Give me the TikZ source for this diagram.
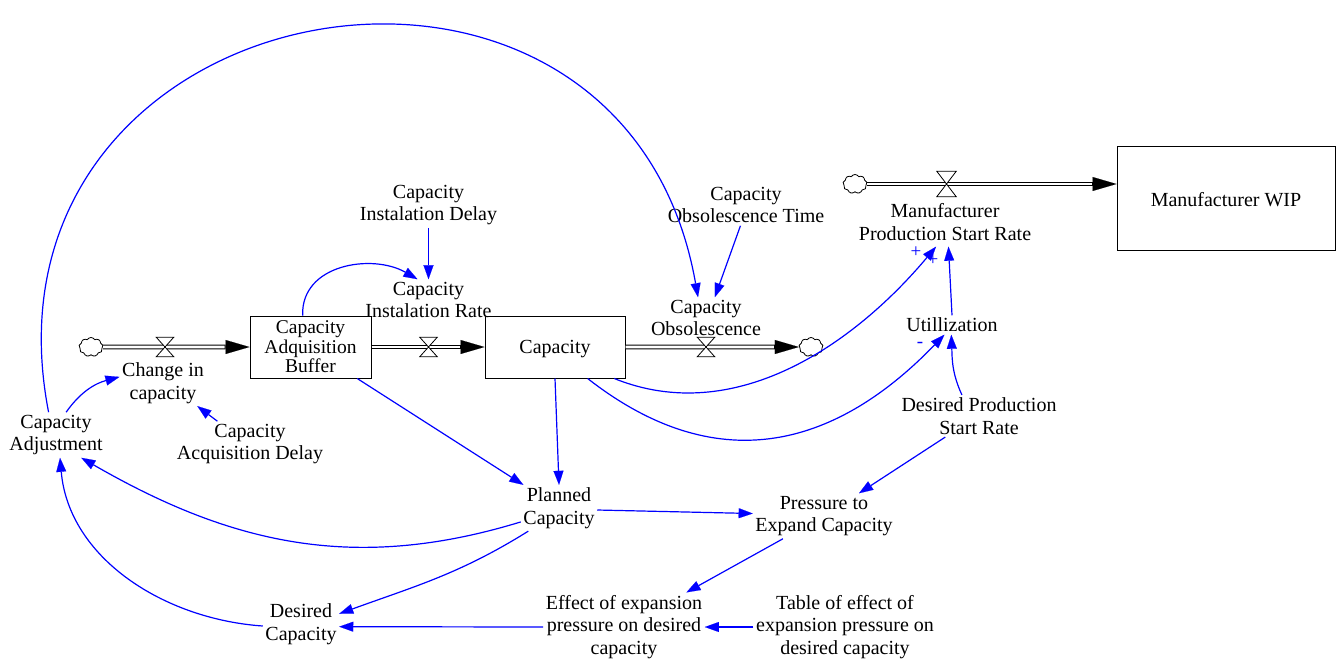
\documentclass[tikz,border=0pt]{standalone}
\usepackage{fontspec}
\setmainfont{Liberation Serif}
\usetikzlibrary{arrows.meta,shapes.symbols}
\definecolor{linkblue}{RGB}{0,0,255}
\begin{document}
\begin{tikzpicture}[x=1pt,y=1pt,
  every node/.style={font=\fontsize{20}{22.7}\selectfont},
  var/.style={align=center, inner sep=2.5pt, yshift=-2pt},
  stock/.style={draw, line width=1pt, inner sep=0pt, align=center},
  cloudnode/.style={cloud, draw, cloud puffs=9, cloud puff arc=120, aspect=1.25,
    minimum width=24pt, minimum height=19pt, inner sep=0pt, line width=0.8pt},
  valvebox/.style={minimum width=17pt, minimum height=19pt, inner sep=0pt},
  valve/.style={fill=white, draw=black, line width=0.8pt, line join=miter},
  pipeout/.style={line width=4.6pt, -{Triangle[length=24pt,width=14pt,line width=0.1pt]}},
  pipein/.style={white, line width=2.6pt, shorten >=25pt},
  link/.style={linkblue, line width=1.2pt, -{Triangle[length=14pt,width=10pt,line width=0.1pt]}},
  polar/.style={linkblue, font=\fontsize{19}{21}\selectfont, inner sep=0pt}
]
\path[use as bounding box, fill=white] (0,0) rectangle (1343,-659);

% stocks
\node[stock, minimum width=121pt, minimum height=62pt,
      font=\fontsize{19.5}{19.5}\selectfont] (buffer) at (310.5,-347) {Capacity\\Adquisition\\Buffer};
\node[stock, minimum width=140pt, minimum height=62pt,
      label={[yshift=-2.5pt]center:Capacity}] (cap) at (555,-347) {};
\node[stock, minimum width=218pt, minimum height=104pt,
      label={[yshift=-2pt]center:Manufacturer WIP}] (wip) at (1226,-198) {};

% sources and sinks
\node[cloudnode] (src1) at (91,-347) {};
\node[cloudnode] (snk2) at (811,-347) {};
\node[cloudnode] (src3) at (855,-184) {};

% flow pipes
\draw[pipeout] (src1.east) -- (buffer.west);
\draw[pipein]  (src1.east) -- (buffer.west);
\draw[pipeout] (buffer.east) -- (cap.west);
\draw[pipein]  (buffer.east) -- (cap.west);
\draw[pipeout] (cap.east) -- (snk2.west);
\draw[pipein]  (cap.east) -- (snk2.west);
\draw[pipeout] (src3.east) -- (src3.east -| wip.west);
\draw[pipein]  (src3.east) -- (src3.east -| wip.west);

% valves
\node[valvebox] (v1) at (165,-347) {};
\node[valvebox] (v2) at (428.5,-347) {};
\node[valvebox] (v3) at (706,-347) {};
\node[valvebox, minimum width=19pt, minimum height=25pt] (v4) at (946.5,-184) {};
\foreach \v in {v1,v2,v3,v4}
  \filldraw[valve] (\v.north west) -- (\v.north east) -- (\v.south west) -- (\v.south east) -- cycle;

% variables
\node[var] (chg)       at (163,-381)   {Change in\\capacity};
\node[var] (acqdelay)  at (250,-442)   {Capacity\\Acquisition Delay};
\node[var] (capadj)    at (56,-433)    {Capacity\\Adjustment};
\node[var] (instdelay) at (428.5,-203) {Capacity\\Instalation Delay};
\node[var] (instrate)  at (428.5,-298) {Capacity\\Instalation Rate};
\node[var] (obstime)   at (746,-203)   {Capacity\\Obsolescence Time};
\node[var] (obs)       at (706,-316)   {Capacity\\Obsolescence};
\node[var, inner ysep=6pt] (mpsr) at (945,-220) {Manufacturer\\Production Start Rate};
\node[var, inner ysep=2.5pt, yshift=2pt] (util) at (952,-325) {Utillization};
\node[var] (dpsr)      at (979,-414)   {Desired Production\\Start Rate};
\node[var] (pec)       at (824,-514)   {Pressure to\\Expand Capacity};
\node[var] (planned)   at (559,-506)   {Planned\\Capacity};
\node[var] (desired)   at (301,-622)   {Desired\\Capacity};
\node[var] (effect)    at (624,-625)   {Effect of expansion\\pressure on desired\\capacity};
\node[var] (table)     at (845,-625)   {Table of effect of\\expansion pressure on\\desired capacity};

% polarity marks
\node[polar] (pol1) at (916,-252) {+};
\node[polar] (pol2) at (933,-260) {+};
\node[polar] (pol3) at (920,-345) {-};

% causal links
\draw[link] (capadj.66) to[out=55,in=195] (chg.172);
\draw[link] (acqdelay.145) -- (chg.-34);
\draw[link] (capadj.108) to[out=101,in=100,looseness=1.7] (obs.111);
\draw[link] (buffer.104) to[out=92,in=150,looseness=1.1] (instrate.118);
\draw[link] (instdelay) -- (instrate);
\draw[link] (obstime.-105) -- (obs.67);
\draw[link] (cap.-28) to[out=-22,in=-130,looseness=0.95] (mpsr.-110);
\draw[link] (util.north) -- (mpsr.-82);
\draw[link] (cap.-44) to[out=-38,in=-134,looseness=1.15] (util.-128);
\draw[link] (dpsr.129) to[out=115,in=-88] (util.-94);
\draw[link] (dpsr.-148) -- (pec.33);
\draw[link] (buffer.-34) -- (planned.147);
\draw[link] (cap.south) -- (planned.north);
\draw[link] (planned.-3) -- (pec.178);
\draw[link] (planned.-160) to[out=-163,in=-30] (capadj.-42);
\draw[link] (planned.-143) to[out=-148,in=20] (desired.15);
\draw[link] (desired.183) to[out=176,in=-85,looseness=0.97] (capadj.-80);
\draw[link] (pec.-151) -- (effect.29);
\draw[link] (effect.west) -- (desired.-4);
\draw[link] (table.west) -- (effect.east);
\end{tikzpicture}
\end{document}
